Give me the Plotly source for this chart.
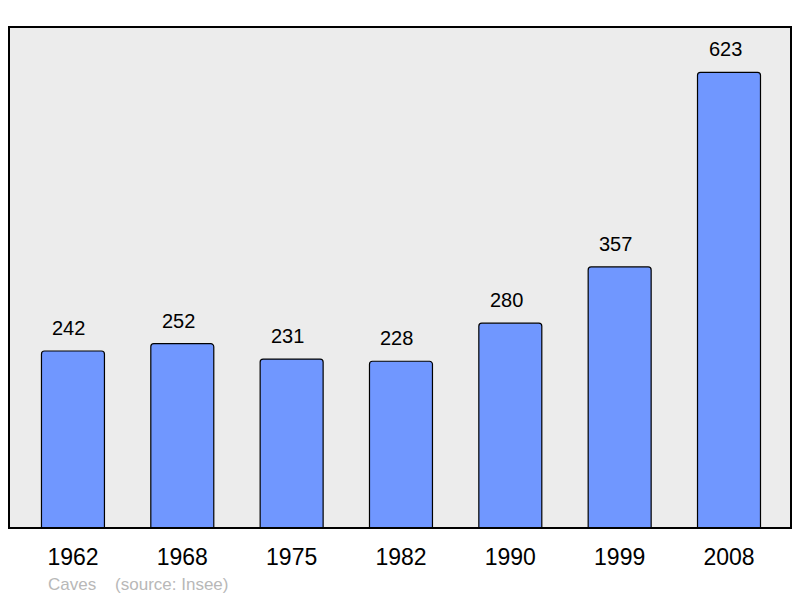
import plotly.graph_objects as go

years = ["1962", "1968", "1975", "1982", "1990", "1999", "2008"]
population = [242, 252, 231, 228, 280, 357, 623]
caption = "Caves    (source: Insee)"

fig = go.Figure()
fig.add_trace(go.Bar(
    x=list(range(len(years))), y=population, width=0.576,
    marker=dict(color="#7097ff", line=dict(color="#000000", width=1.2), cornerradius=3),
    hoverinfo="skip",
))
for i, v in enumerate(population):
    fig.add_annotation(x=i, y=v, text=str(v), showarrow=False, yanchor="bottom", yshift=10, xshift=-4,
                       font=dict(family="Liberation Sans, Arial", size=20, color="#000"))

fig.add_annotation(xref="paper", yref="paper", x=0.0474, y=-0.112, xanchor="left", yanchor="middle",
                   text=caption, showarrow=False,
                   font=dict(family="Liberation Sans, Arial", size=17, color="#b8b8b8"))

fig.add_shape(type="path", xref="paper", yref="paper",
              path="M 0,0 L 0,1 L 1,1 L 1,0 Z", line=dict(color="#000", width=2), layer="above")

fig.update_layout(
    width=792, height=590,
    margin=dict(l=1, r=9, t=19, b=70, autoexpand=False),
    plot_bgcolor="#ececec", paper_bgcolor="#ffffff",
    showlegend=False,
    xaxis=dict(range=[-0.585, 6.567], tickmode="array", tickvals=list(range(len(years))), ticktext=years,
               showgrid=False, zeroline=False, ticks="outside", ticklen=8, tickcolor="rgba(0,0,0,0)",
               tickfont=dict(family="Liberation Sans, Arial", size=23, color="#000")),
    yaxis=dict(range=[0, 685], showgrid=False, zeroline=False, showticklabels=False),
)
fig.write_html("out.html")
